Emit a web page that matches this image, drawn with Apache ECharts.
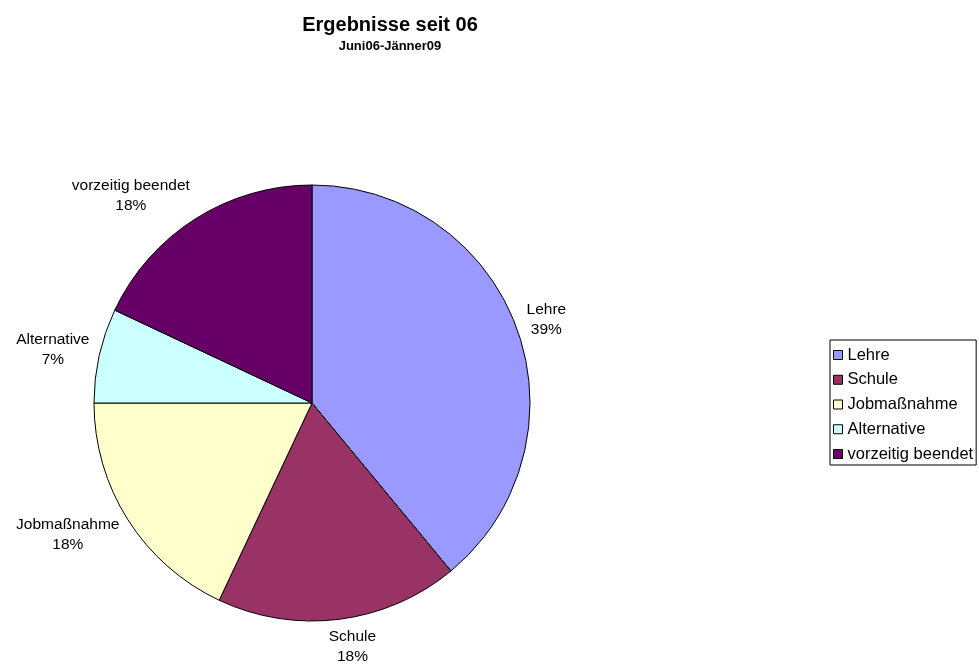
<!DOCTYPE html>
<html>
<head>
<meta charset="utf-8">
<script src="https://cdn.jsdelivr.net/npm/echarts@6/dist/echarts.min.js"></script>
<style>
  html, body { margin: 0; padding: 0; background: #fff; }
  #chart { width: 979px; height: 664px; }
</style>
</head>
<body>
<div id="chart"></div>
<script>
// data
var categories = ["Lehre", "Schule", "Jobmaßnahme", "Alternative", "vorzeitig beendet"];
var values = [39, 18, 18, 7, 18];
var colors = ["#9999FF", "#993366", "#FFFFCC", "#CCFFFF", "#660066"];

var CX = 312, CY = 403, R = 218;
var total = values.reduce(function (a, b) { return a + b; }, 0);

function clamp(t) { return Math.max(-1, Math.min(1, t)); }

var chart = echarts.init(document.getElementById("chart"));
chart.setOption({
  animation: false,
  textStyle: { fontFamily: "Liberation Sans, Arial, sans-serif" },
  title: {
    text: "Ergebnisse seit 06",
    subtext: "Juni06-Jänner09",
    left: 385,
    top: 10,
    textAlign: "center",
    itemGap: 5,
    textStyle: { fontSize: 20, fontWeight: "bold", color: "#000", lineHeight: 20 },
    subtextStyle: { fontSize: 13, fontWeight: "bold", color: "#000", lineHeight: 13 }
  },
  legend: {
    orient: "vertical",
    left: 830,
    top: 340,
    padding: [6.5, 3, 2.5, 3],
    borderColor: "#000",
    borderWidth: 1,
    backgroundColor: "#fff",
    icon: "rect",
    itemWidth: 9,
    itemHeight: 9,
    itemGap: 7.75,
    itemStyle: { borderColor: "#000", borderWidth: 1 },
    textStyle: { fontSize: 16.5, color: "#000", lineHeight: 17 },
    data: categories
  },
  series: [{
    type: "pie",
    center: [CX, CY],
    radius: R,
    startAngle: 90,
    clockwise: true,
    avoidLabelOverlap: false,
    itemStyle: { borderColor: "#000", borderWidth: 1 },
    emphasis: { disabled: true },
    label: {
      position: "outside",
      fontSize: 15.5,
      lineHeight: 20,
      color: "#000",
      align: "center",
      formatter: function (p) { return p.name + "\n" + Math.round(p.percent) + "%"; }
    },
    labelLine: { show: false },
    // place each label just outside the rim, pushed away along its mid-angle
    labelLayout: function (p) {
      var i = p.dataIndex, before = 0;
      for (var j = 0; j < i; j++) before += values[j];
      var mid = (before + values[i] / 2) / total * 2 * Math.PI;
      var dx = Math.sin(mid), dy = -Math.cos(mid);
      var r = R + 10;
      var w = p.labelRect.width, h = p.labelRect.height;
      return {
        x: CX + dx * r + clamp(4 * dx) * w / 2,
        y: CY + dy * r + clamp(0.9 * dy) * h / 2,
        align: "center",
        verticalAlign: "middle"
      };
    },
    data: categories.map(function (c, i) {
      return { name: c, value: values[i], itemStyle: { color: colors[i] } };
    })
  }]
});
</script>
</body>
</html>
